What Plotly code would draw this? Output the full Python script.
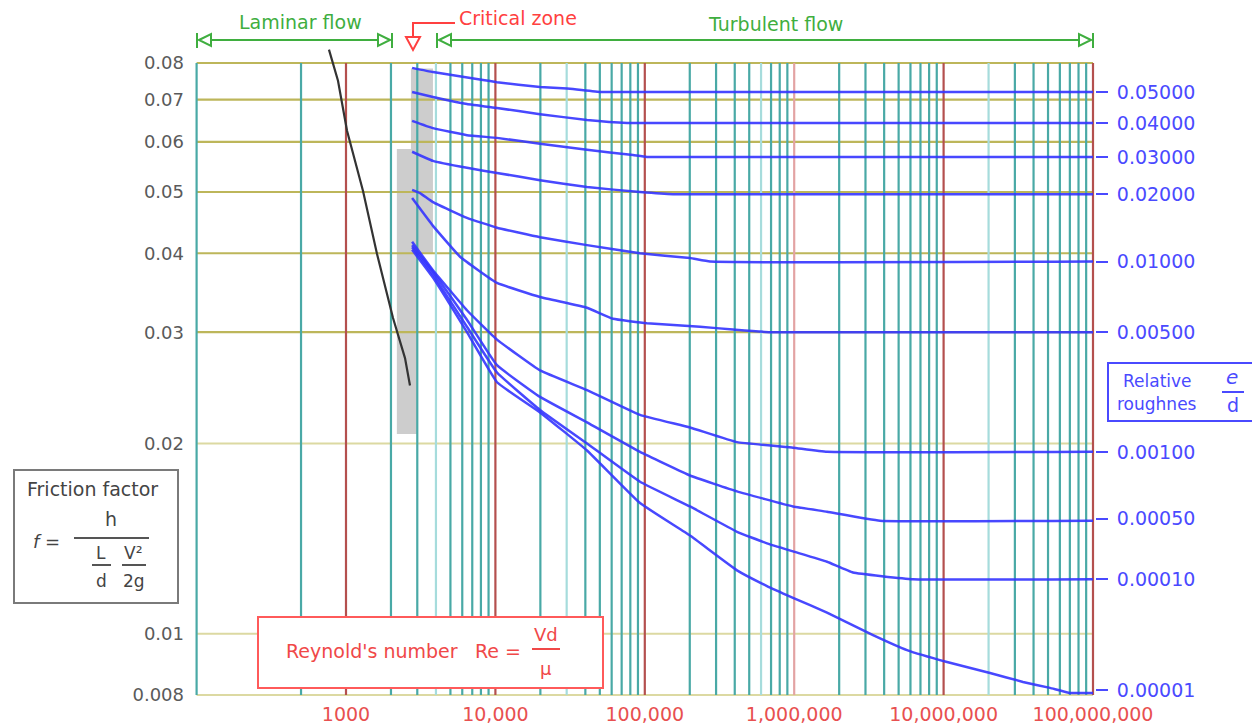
import plotly.graph_objects as go

# ---------------- data ----------------
re_tick_vals = [1e3, 1e4, 1e5, 1e6, 1e7, 1e8]
re_tick_text = ["1000", "10,000", "100,000", "1,000,000", "10,000,000", "100,000,000"]
f_tick_vals = [0.008, 0.01, 0.02, 0.03, 0.04, 0.05, 0.06, 0.07, 0.08]
f_tick_text = ["0.008", "0.01", "0.02", "0.03", "0.04", "0.05", "0.06", "0.07", "0.08"]

grid_re_teal = [100, 500, 2000, 3000, 5000, 6000, 7000, 8000, 9000,
                20000, 40000, 50000, 60000, 70000, 80000, 90000,
                200000, 300000, 400000, 500000, 700000, 800000, 900000,
                2e6, 3e6, 4e6, 5e6, 6e6, 7e6, 8e6, 9e6,
                3e7, 4e7, 5e7, 6e7, 7e7, 8e7, 9e7]
grid_re_teal_light = [4000, 30000, 600000, 2e7]
grid_re_red = [1000, 1e4, 1e5, 1e7, 1e8]
grid_re_red_light = [1e6]
grid_f_olive = [0.03, 0.04, 0.05, 0.06, 0.07, 0.08]
grid_f_pale = [0.008, 0.01, 0.02]

laminar_re = [769, 884, 1016, 1300, 1613, 2064, 2483, 2681]
laminar_f = [0.0840, 0.0750, 0.0625, 0.0502, 0.0399, 0.0316, 0.0273, 0.0247]

critical_low_re = [2190, 3030]
critical_low_f = [0.0207, 0.0585]
critical_high_re = [2720, 3820]
critical_high_f = [0.0399, 0.0784]

re_r05000 = [2770, 3820, 8260, 10250, 19890, 30150, 50130, 1e8]
f_r05000 = [0.0786, 0.0774, 0.0752, 0.0746, 0.0733, 0.0729, 0.0720, 0.0720]
re_r04000 = [2770, 3820, 6450, 10250, 19890, 41040, 76030, 1e8]
f_r04000 = [0.0720, 0.0707, 0.0689, 0.0679, 0.0664, 0.0650, 0.0643, 0.0643]
re_r03000 = [2770, 3820, 6450, 10250, 19890, 41040, 83370, 103450, 1e8]
f_r03000 = [0.0648, 0.0631, 0.0615, 0.0609, 0.0596, 0.0583, 0.0572, 0.0568, 0.0568]
re_r02000 = [2770, 3820, 6450, 10250, 19890, 41040, 92880, 154500, 1e8]
f_r02000 = [0.0579, 0.0560, 0.0546, 0.0536, 0.0522, 0.0509, 0.0500, 0.0496, 0.0496]
re_r01000 = [2770, 3130, 3820, 6450, 10250, 19890, 41040, 92880, 200700, 273200, 1e8]
f_r01000 = [0.0504, 0.0498, 0.0482, 0.0455, 0.0439, 0.0424, 0.0412, 0.0400, 0.0393, 0.0388, 0.0388]
re_r00500 = [2770, 3820, 5800, 10250, 19890, 41040, 61260, 103450, 234200, 389500, 688700, 1e8]
f_r00500 = [0.0489, 0.0442, 0.0395, 0.0359, 0.0341, 0.0328, 0.0315, 0.0310, 0.0306, 0.0303, 0.0300, 0.0300]
re_r00100 = [2770, 3820, 6450, 10250, 19890, 41040, 92880, 200700, 414200, 981700, 1.658e6, 1e8]
f_r00100 = [0.0417, 0.0376, 0.0325, 0.0292, 0.0261, 0.0243, 0.0222, 0.0212, 0.0201, 0.0197, 0.0194, 0.0194]
re_r00050 = [2770, 3820, 6450, 10250, 19890, 41040, 92880, 200700, 414200, 981700, 1.658e6, 3.753e6, 1e8]
f_r00050 = [0.0412, 0.0374, 0.0314, 0.0266, 0.0237, 0.0216, 0.0194, 0.0178, 0.0168, 0.0159, 0.0156, 0.0151, 0.0151]
re_r00010 = [2770, 3820, 6450, 10250, 19890, 41040, 92880, 200700, 414200, 657500, 981700, 1.658e6, 2.475e6, 6.241e6, 1e8]
f_r00010 = [0.0409, 0.0370, 0.0306, 0.0259, 0.0226, 0.0200, 0.0174, 0.0159, 0.0145, 0.0139, 0.0135, 0.0130, 0.0125, 0.0122, 0.0122]
re_r00001 = [2770, 3820, 6450, 10250, 19890, 41040, 92880, 200700, 414200, 657500, 981700, 1.658e6,
             3.369e6, 5.689e6, 1.054e7, 2.045e7, 3.4e7, 5.155e7, 7.018e7, 1e8]
f_r00001 = [0.0405, 0.0366, 0.0300, 0.0250, 0.0224, 0.0195, 0.0161, 0.0143, 0.0126, 0.0119, 0.0114, 0.0108,
            0.00995, 0.00942, 0.00902, 0.00867, 0.00839, 0.00821, 0.00806, 0.00806]

roughness_text = ["0.05000", "0.04000", "0.03000", "0.02000", "0.01000",
                  "0.00500", "0.00100", "0.00050", "0.00010", "0.00001"]
roughness_label_f = [0.0720, 0.0643, 0.0568, 0.0496, 0.0388, 0.0300, 0.0194, 0.0152, 0.0122, 0.00815]

# ---------------- styling ----------------
FONT = "DejaVu Sans"
W, H = 1252, 727
PL, PR, PT, PB = 190, 1095, 40, 698   # plot area in pixels
BLUE = "#3535ff"
GREEN = "#3fae3f"
RED_TXT = "#f04848"


def px(x):
    return (x - PL) / (PR - PL)


def py(y):
    return (PB - y) / (PB - PT)


def path(points, close=False):
    s = "M " + " L ".join(f"{px(a):.5f},{py(b):.5f}" for a, b in points)
    return s + (" Z" if close else "")


fig = go.Figure()

f_min, f_max = f_tick_vals[0], f_tick_vals[-1]
re_min, re_max = grid_re_teal[0], grid_re_red[-1]


def rect_trace(xr, yr):
    return go.Scatter(x=[xr[0], xr[1], xr[1], xr[0], xr[0]], y=[yr[0], yr[0], yr[1], yr[1], yr[0]],
                      fill="toself", fillcolor="#cdcdcd", line=dict(width=0), mode="lines",
                      hoverinfo="skip")


fig.add_trace(rect_trace(critical_low_re, critical_low_f))
fig.add_trace(rect_trace(critical_high_re, critical_high_f))


def hlines(vals, color):
    xs, ys = [], []
    for v in vals:
        xs += [re_min, re_max, None]
        ys += [v, v, None]
    return go.Scatter(x=xs, y=ys, mode="lines", line=dict(color=color, width=2.2), hoverinfo="skip")


def vlines(vals, color):
    xs, ys = [], []
    for v in vals:
        xs += [v, v, None]
        ys += [f_min, f_max, None]
    return go.Scatter(x=xs, y=ys, mode="lines", line=dict(color=color, width=2.2), hoverinfo="skip")


fig.add_trace(hlines(grid_f_pale, "#dcd9a2"))
fig.add_trace(hlines(grid_f_olive, "#bdb65a"))
fig.add_trace(vlines(grid_re_teal_light, "#a6dcdc"))
fig.add_trace(vlines(grid_re_teal, "#49a9a6"))
fig.add_trace(vlines(grid_re_red_light, "#e3a3a3"))
fig.add_trace(vlines(grid_re_red, "#b4504e"))

curves = [(re_r05000, f_r05000), (re_r04000, f_r04000), (re_r03000, f_r03000), (re_r02000, f_r02000),
          (re_r01000, f_r01000), (re_r00500, f_r00500), (re_r00100, f_r00100), (re_r00050, f_r00050),
          (re_r00010, f_r00010), (re_r00001, f_r00001)]
for rx, fy in curves:
    fig.add_trace(go.Scatter(x=rx, y=fy, mode="lines", yaxis="y2",
                             line=dict(color=BLUE, width=2.5, shape="spline", smoothing=0.3),
                             opacity=0.9, hoverinfo="skip"))

fig.add_trace(go.Scatter(x=laminar_re, y=laminar_f, mode="lines",
                         line=dict(color="#333333", width=2.2), hoverinfo="skip"))

shapes = []
annotations = []

# top flow-regime arrows
for a, b in [(199, 390), (439, 1091)]:
    shapes.append(dict(type="path", path=path([(a, 40), (b, 40)]), xref="paper", yref="paper",
                       line=dict(color=GREEN, width=2)))
for xb in [197, 392, 437, 1093]:
    shapes.append(dict(type="path", path=path([(xb, 33), (xb, 48)]), xref="paper", yref="paper",
                       line=dict(color=GREEN, width=2)))
for tip, base in [(199, 211), (390, 378), (439, 451), (1091, 1079)]:
    shapes.append(dict(type="path", path=path([(tip, 40), (base, 34), (base, 46)], close=True),
                       xref="paper", yref="paper", line=dict(color=GREEN, width=2), fillcolor="white"))
shapes.append(dict(type="path", path=path([(406, 37), (420, 37), (413, 50)], close=True),
                   xref="paper", yref="paper", line=dict(color="#ff4040", width=2), fillcolor="white"))
shapes.append(dict(type="path", path=path([(413, 37), (413, 23), (455, 23)]),
                   xref="paper", yref="paper", line=dict(color="#ff4040", width=2)))


def txt(text, x, y, size=18, color="#444", xanchor="center", yanchor="middle"):
    annotations.append(dict(text=text, x=px(x), y=py(y), xref="paper", yref="paper", showarrow=False,
                            xanchor=xanchor, yanchor=yanchor,
                            font=dict(family=FONT, size=size, color=color)))


def seg(x0, x1, y, color, width=2):
    shapes.append(dict(type="path", path=path([(x0, y), (x1, y)]), xref="paper", yref="paper",
                       line=dict(color=color, width=width)))


txt("Laminar flow", 300, 22, 19, GREEN)
txt("Critical zone", 457, 18, 19, "#ff4040", xanchor="left")
txt("Turbulent flow", 775, 24, 19, GREEN)

# friction factor box
shapes.append(dict(type="rect", x0=px(14), x1=px(178), y0=py(603), y1=py(470), xref="paper", yref="paper",
                   line=dict(color="#7a7a7a", width=2), fillcolor="white"))
txt("Friction factor", 92, 489, 19, "#444")
txt("<i>f</i> =", 46, 541, 18, "#444")
txt("h", 111, 519, 19, "#444")
seg(74, 149, 538, "#555")
txt("L", 101, 553, 17, "#444")
seg(92, 111, 565, "#555")
txt("d", 101, 581, 17, "#444")
txt("V²", 133, 553, 17, "#444")
seg(122, 146, 565, "#555")
txt("2g", 134, 581, 17, "#444")

# Reynolds number box
shapes.append(dict(type="rect", x0=px(258), x1=px(603), y0=py(688), y1=py(617), xref="paper", yref="paper",
                   line=dict(color="#ff5a5a", width=2), fillcolor="white", layer="above"))
txt("Reynold's number", 284, 651, 19, RED_TXT, xanchor="left")
txt("Re =", 473, 651, 19, RED_TXT, xanchor="left")
txt("Vd", 546, 634, 18, RED_TXT)
seg(532, 560, 649, RED_TXT)
txt("μ", 546, 668, 18, RED_TXT)

# relative roughness box
shapes.append(dict(type="rect", x0=px(1108), x1=px(1262), y0=py(421), y1=py(363), xref="paper", yref="paper",
                   line=dict(color="#4a4aff", width=2), fillcolor="white"))
txt("Relative", 1121, 381, 17, "#4a4aff", xanchor="left")
txt("roughnes", 1115, 404, 17, "#4a4aff", xanchor="left")
txt("<i>e</i>", 1232, 377, 20, "#4a4aff")
seg(1222, 1244, 392, "#4a4aff")
txt("d", 1233, 405, 19, "#4a4aff")

x_range = [2 - (196.6 - PL) / 149.4, 2 + (PR - 196.6) / 149.4]
y_top = -1.09691 + (63 - PT) / 632
y_bot = -2.09691 - (PB - 695) / 632

fig.update_layout(
    width=W, height=H, autosize=False,
    margin=dict(l=PL, r=W - PR, t=PT, b=H - PB, pad=0, autoexpand=False),
    plot_bgcolor="white", paper_bgcolor="white",
    showlegend=False, hovermode=False,
    font=dict(family=FONT),
    xaxis=dict(type="log", range=x_range, showgrid=False, zeroline=False, showline=False, automargin=False,
               tickmode="array", tickvals=re_tick_vals, ticktext=re_tick_text, ticks="",
               tickfont=dict(family=FONT, size=19, color="#e85050"), ticklabelstandoff=3),
    yaxis=dict(type="log", range=[y_bot, y_top], showgrid=False, zeroline=False, showline=False,
               automargin=False,
               tickmode="array", tickvals=f_tick_vals, ticktext=f_tick_text, ticks="",
               tickfont=dict(family=FONT, size=18, color="#5a5a5a"), ticklabelstandoff=5),
    yaxis2=dict(type="log", range=[y_bot, y_top], overlaying="y", side="right", showgrid=False,
                automargin=False,
                zeroline=False, showline=False, tickmode="array", tickvals=roughness_label_f,
                ticktext=roughness_text, ticks="outside", ticklen=12, tickwidth=2, tickcolor="#4a4aff",
                ticklabelstandoff=5,
                tickfont=dict(family=FONT, size=19, color="#4a4aff")),
    shapes=shapes, annotations=annotations,
)

fig.write_html("out.html", config={"displayModeBar": False},
               post_script="document.body.style.margin='0';document.body.style.overflow='hidden';")
